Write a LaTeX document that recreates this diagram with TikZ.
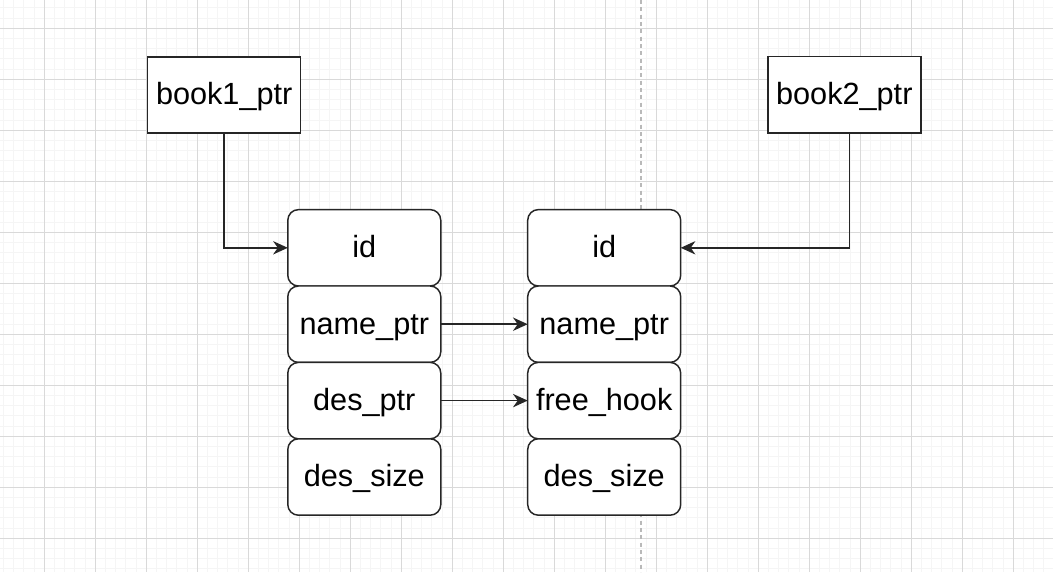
\documentclass[tikz,border=0pt]{standalone}
\usepackage{fontspec}
\setmainfont{Liberation Sans}
\usetikzlibrary{positioning,arrows.meta}

\begin{document}
\begin{tikzpicture}[x=0.75pt,y=0.75pt,
    field/.style={draw=black!85,line width=1.1pt,rounded corners=8pt,fill=white,
                  minimum width=114.75pt,minimum height=57.3pt,outer sep=0pt,
                  text height=17pt,text depth=2.2pt,font=\fontsize{23}{27}\selectfont},
    ptrbox/.style={field,sharp corners},
    link/.style={draw=black!85,line width=1.1pt,-{Stealth[length=11pt,width=10pt,inset=3.5pt]}}]
\useasboundingbox (0,0) rectangle (1053,-572);
\fill[white] (0,0) rectangle (1053,-572);
% grid
\foreach \i in {0,...,103} \draw[gray!8,line width=0.75pt] (3.5+10.2*\i,0) -- ++(0,-572);
\foreach \j in {0,...,55} \draw[gray!8,line width=0.75pt] (0,-7.9-10.2*\j) -- ++(1053,0);
\foreach \i in {0,...,19} \draw[gray!30,line width=0.75pt] (44.3+51*\i,0) -- ++(0,-572);
\foreach \j in {0,...,10} \draw[gray!30,line width=0.75pt] (0,-28.3-51*\j) -- ++(1053,0);
\draw[gray!55,line width=1.5pt,dash pattern=on 3pt off 2.5pt] (641,0) -- (641,-572);

\node[ptrbox] (book1) at (224.2,-95) {book1\_ptr};
\node[ptrbox] (book2) at (844.3,-94.7) {book2\_ptr};

\node[field] (id1) at (364.3,-247.8) {id};
\node[field,below=0pt of id1] (name1) {name\_ptr};
\node[field,below=0pt of name1] (des1) {des\_ptr};
\node[field,below=0pt of des1] (size1) {des\_size};

\node[field] (id2) at (604.2,-247.8) {id};
\node[field,below=0pt of id2] (name2) {name\_ptr};
\node[field,below=0pt of name2] (hook2) {free\_hook};
\node[field,below=0pt of hook2] (size2) {des\_size};

\draw[link] (book1.south) |- (id1.west);
\draw[link] ([xshift=3.75pt]book2.south) |- (id2.east);
\draw[link] (name1) -- (name2);
\draw[link] (des1) -- (hook2);
\end{tikzpicture}
\end{document}
